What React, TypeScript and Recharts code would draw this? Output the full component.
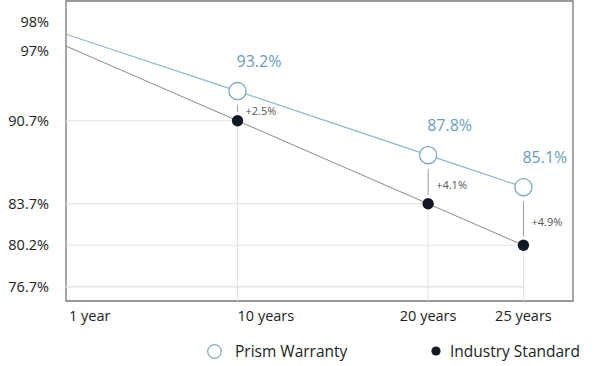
import React from 'react';
import { LineChart, Line, XAxis, YAxis, ReferenceLine, ReferenceArea, Legend } from 'recharts';

const years = [1, 10, 20, 25];
const prismValues = [98, 93.2, 87.8, 85.1];
const industryValues = [97, 90.7, 83.7, 80.2];
const xTickLabels = ['1 year', '10 years', '20 years', '25 years'];
const yTicks = [76.7, 80.2, 83.7, 90.7, 97, 98];
const seriesNames = ['Prism Warranty', 'Industry Standard'];

const data = years.map((year, i) => ({ year, prism: prismValues[i], industry: industryValues[i] }));

const X_DOMAIN: [number, number] = [1, 27.6];
const Y_DOMAIN: [number, number] = [75.5, 100.8];
const FONT = '"Open Sans", sans-serif';
const PRISM_LINE = '#8fb5cb';
const PRISM_STROKE = '#7eaac4';
const PRISM_TEXT = '#6a9cbb';
const IND_LINE = '#8a8a8a';
const IND_DOT = '#111826';
const GRID = '#e2e2e2';
const xAnchors = ['start', 'start', 'middle', 'middle'];
// small vertical label nudges (px) so the two close top labels do not collide
const yLabelNudge = [0, 0, 0, 0, 5, -12];

const PrismDot = (props: any) => {
  const { cx, cy, index, payload } = props;
  if (index === 0 || cx == null) return <g key={`pd-${index}`} />;
  return (
    <g key={`pd-${index}`}>
      <circle cx={cx} cy={cy} r={8.6} fill="#fff" stroke={PRISM_STROKE} strokeWidth={1.3} />
      <text x={cx - 1} y={cy - 29.5} dy="0.35em" textAnchor="start" fontSize={16} fill={PRISM_TEXT} fontFamily={FONT}>
        {`${payload.prism}%`}
      </text>
    </g>
  );
};

const IndustryDot = (props: any) => {
  const { cx, cy, index } = props;
  if (index === 0 || cx == null) return <g key={`id-${index}`} />;
  return <circle key={`id-${index}`} cx={cx} cy={cy} r={5.7} fill={IND_DOT} />;
};

const Connector = (props: any) => {
  const { x1, y1, y2, gap } = props;
  const top = y1 + 14;
  const bottom = y2 - 9;
  return (
    <g>
      <line x1={x1} x2={x1} y1={top} y2={bottom} stroke="#9a9a9a" strokeWidth={1} />
      <text x={x1 + 8} y={(top + bottom) / 2 + 3} dy="0.35em" fontSize={11} fill="#555" fontFamily={FONT}>
        {gap}
      </text>
    </g>
  );
};

const XTick = (props: any) => {
  const { x, y, payload } = props;
  const i = years.indexOf(payload.value);
  return (
    <text x={i === 0 ? x + 3 : x} y={y} dy="0.71em" textAnchor={xAnchors[i] as any} fontSize={14.5} fill="#222" fontFamily={FONT}>
      {xTickLabels[i]}
    </text>
  );
};

const YTick = (props: any) => {
  const { x, y, payload } = props;
  const i = yTicks.indexOf(payload.value);
  return (
    <text x={x} y={y + (yLabelNudge[i] || 0)} dy="0.355em" textAnchor="end" fontSize={14.5} fill="#222" fontFamily={FONT}>
      {`${payload.value}%`}
    </text>
  );
};

const LegendContent = () => (
  <div style={{ position: 'relative', width: 600, height: 28, fontFamily: FONT, fontSize: 15.5, color: '#222' }}>
    <div style={{ position: 'absolute', left: 207, top: 0, height: 28, display: 'flex', alignItems: 'center' }}>
      <svg width={15} height={15} style={{ display: 'block' }}>
        <circle cx={7.5} cy={7.5} r={6.8} fill="#fff" stroke={PRISM_STROKE} strokeWidth={1.2} />
      </svg>
      <span style={{ marginLeft: 13 }}>{seriesNames[0]}</span>
    </div>
    <div style={{ position: 'absolute', left: 429, top: 0, height: 28, display: 'flex', alignItems: 'center' }}>
      <svg width={14} height={14} style={{ display: 'block' }}>
        <circle cx={7} cy={7} r={4.6} fill={IND_DOT} />
      </svg>
      <span style={{ marginLeft: 7 }}>{seriesNames[1]}</span>
    </div>
  </div>
);

export default function App() {
  return (
    <div style={{ position: 'absolute', left: 0, top: 0 }}>
      <LineChart width={600} height={366} data={data} margin={{ top: 1, right: 27, left: 0, bottom: 7 }}>
        <XAxis
          dataKey="year"
          type="number"
          domain={X_DOMAIN}
          ticks={years}
          allowDataOverflow
          axisLine={false}
          tickLine={false}
          tickSize={6}
          tickMargin={4}
          interval={0}
          height={30}
          tick={<XTick />}
        />
        <YAxis
          type="number"
          domain={Y_DOMAIN}
          ticks={yTicks}
          allowDataOverflow
          axisLine={false}
          tickLine={false}
          tickSize={6}
          tickMargin={11}
          interval={0}
          width={66}
          tick={<YTick />}
        />
        <ReferenceLine
          segment={[{ x: years[0], y: yTicks[0] }, { x: years[years.length - 1], y: yTicks[0] }]}
          stroke="#e9e9e9"
          strokeWidth={2}
        />
        {years.slice(1).map((yr, k) => {
          const v = industryValues[k + 1];
          return (
            <ReferenceLine key={`h-${yr}`} segment={[{ x: years[0], y: v }, { x: yr, y: v }]} stroke={GRID} strokeWidth={1} />
          );
        })}
        {years.slice(1).map((yr, k) => {
          const v = industryValues[k + 1];
          return (
            <ReferenceLine key={`v-${yr}`} segment={[{ x: yr, y: v }, { x: yr, y: Y_DOMAIN[0] }]} stroke={GRID} strokeWidth={1} />
          );
        })}
        {years.slice(1).map((yr, k) => {
          const p = prismValues[k + 1];
          const v = industryValues[k + 1];
          const gap = `+${(p - v).toFixed(1)}%`;
          return (
            <ReferenceLine
              key={`c-${yr}`}
              segment={[{ x: yr, y: p }, { x: yr, y: v }]}
              shape={(sp: any) => <Connector {...sp} gap={gap} />}
            />
          );
        })}
        <ReferenceArea
          x1={X_DOMAIN[0]}
          x2={X_DOMAIN[1]}
          y1={Y_DOMAIN[0]}
          y2={Y_DOMAIN[1]}
          fill="none"
          fillOpacity={0}
          stroke="#777"
          strokeWidth={1.3}
        />
        <Line
          dataKey="industry"
          name={seriesNames[1]}
          stroke={IND_LINE}
          strokeWidth={1}
          dot={IndustryDot}
          activeDot={false}
          isAnimationActive={false}
        />
        <Line
          dataKey="prism"
          name={seriesNames[0]}
          stroke={PRISM_LINE}
          strokeWidth={1.2}
          dot={PrismDot}
          activeDot={false}
          isAnimationActive={false}
        />
        <Legend verticalAlign="bottom" content={<LegendContent />} wrapperStyle={{ left: 0, top: 337, width: 600 }} />
      </LineChart>
    </div>
  );
}
